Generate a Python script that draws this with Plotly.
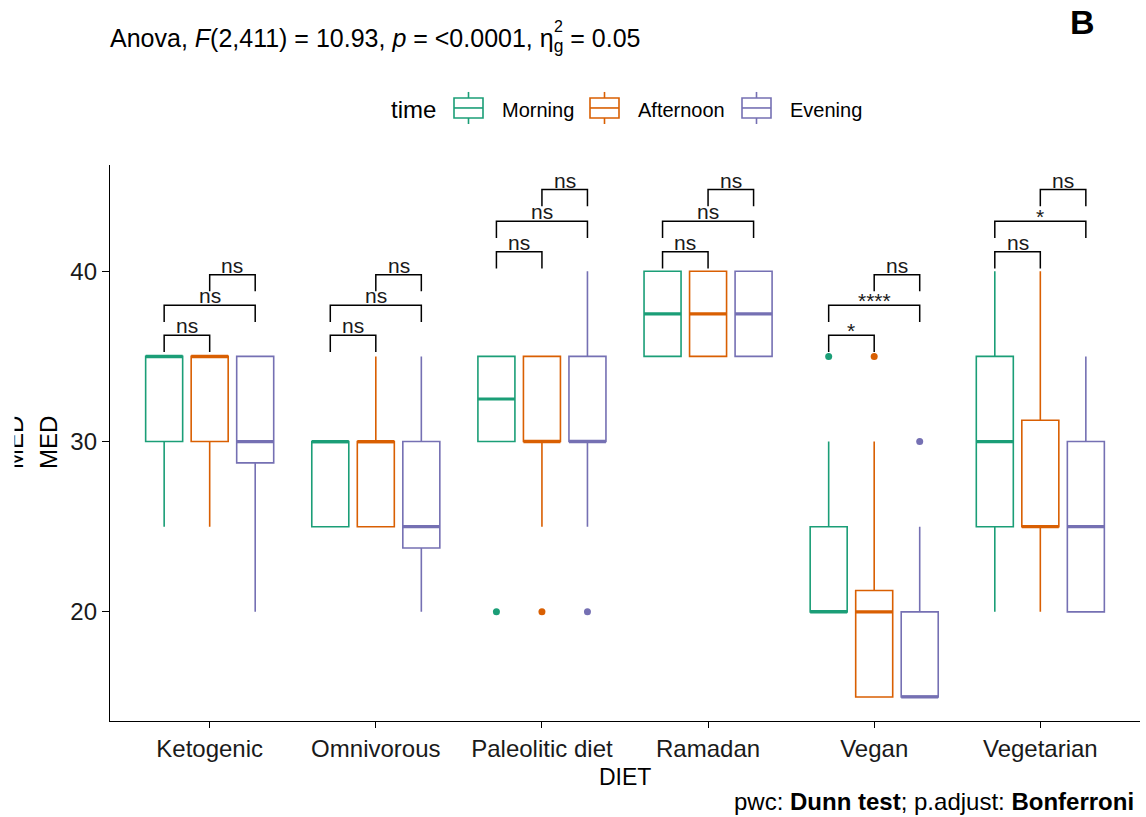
import plotly.graph_objects as go

# ---- data -------------------------------------------------------------
diets = ["Ketogenic", "Omnivorous", "Paleolitic diet", "Ramadan", "Vegan", "Vegetarian"]
times = ["Morning", "Afternoon", "Evening"]

morning_q1 = [30, 25, 30, 35, 20, 25]
morning_median = [35, 30, 32.5, 37.5, 20, 30]
morning_q3 = [35, 30, 35, 40, 25, 35]
morning_low = [25, 25, 30, 35, 20, 20]
morning_high = [35, 30, 35, 40, 30, 40]

afternoon_q1 = [30, 25, 30, 35, 15, 25]
afternoon_median = [35, 30, 30, 37.5, 20, 25]
afternoon_q3 = [35, 30, 35, 40, 21.25, 31.25]
afternoon_low = [25, 25, 25, 35, 15, 20]
afternoon_high = [35, 35, 35, 40, 30, 40]

evening_q1 = [28.75, 23.75, 30, 35, 15, 20]
evening_median = [30, 25, 30, 37.5, 15, 25]
evening_q3 = [35, 30, 35, 40, 20, 30]
evening_low = [20, 20, 25, 35, 15, 20]
evening_high = [35, 35, 40, 40, 25, 35]

# outlying observations (diet, value)
morning_out_x = ["Paleolitic diet", "Vegan"]
morning_out_y = [20, 35]
afternoon_out_x = ["Paleolitic diet", "Vegan"]
afternoon_out_y = [20, 35]
evening_out_x = ["Paleolitic diet", "Vegan"]
evening_out_y = [20, 30]

# pairwise comparisons: diet, group1, group2, bracket height, label
cmp_diet = ["Ketogenic"] * 3 + ["Omnivorous"] * 3 + ["Paleolitic diet"] * 3 + \
           ["Ramadan"] * 3 + ["Vegan"] * 3 + ["Vegetarian"] * 3
cmp_g1 = ["Morning", "Morning", "Afternoon"] * 6
cmp_g2 = ["Afternoon", "Evening", "Evening"] * 6
cmp_y = [36.24, 38.0, 39.8, 36.24, 38.0, 39.8, 41.14, 42.94, 44.8,
         41.14, 42.94, 44.8, 36.24, 38.0, 39.8, 41.14, 42.94, 44.8]
cmp_label = ["ns", "ns", "ns", "ns", "ns", "ns", "ns", "ns", "ns",
             "ns", "ns", "ns", "*", "****", "ns", "ns", "*", "ns"]

y_ticks = [20, 30, 40]

# ---- styling ----------------------------------------------------------
colors = {"Morning": "#1B9E77", "Afternoon": "#D95F02", "Evening": "#7570B3"}
FONT = "Liberation Sans, Arial, sans-serif"
BOXGAP = 0.178
GROUPGAP = 0.187
TIP = 0.98  # bracket tip length in y units

stats = {
    "Morning": (morning_q1, morning_median, morning_q3, morning_low, morning_high,
                morning_out_x, morning_out_y),
    "Afternoon": (afternoon_q1, afternoon_median, afternoon_q3, afternoon_low,
                  afternoon_high, afternoon_out_x, afternoon_out_y),
    "Evening": (evening_q1, evening_median, evening_q3, evening_low, evening_high,
                evening_out_x, evening_out_y),
}

fig = go.Figure()

for t in times:
    q1, med, q3, lo, hi, ox, oy = stats[t]
    fig.add_trace(go.Box(
        name=t, x=diets, q1=q1, median=med, q3=q3,
        lowerfence=lo, upperfence=hi,
        boxpoints=False, fillcolor="white", whiskerwidth=0,
        line=dict(color=colors[t], width=1.6),
        offsetgroup=t, alignmentgroup="all",
        showlegend=False, hoverinfo="skip",
    ))

# plot geometry (pixels) used for marker sizes
PLOT_W = 1146 - 110 - 6
X_SPAN = 6.2
slot = (1 - BOXGAP) / len(times)
box_px = slot * (1 - GROUPGAP) * PLOT_W / X_SPAN

for t in times:
    q1, med, q3, lo, hi, ox, oy = stats[t]
    # thicker median bar (line-ew half-length is 0.7 * size)
    fig.add_trace(go.Scatter(
        x=diets, y=med, mode="markers",
        marker=dict(symbol="line-ew", size=box_px / 1.4,
                    line=dict(color=colors[t], width=3.2)),
        offsetgroup=t, alignmentgroup="all",
        showlegend=False, hoverinfo="skip",
    ))
    # outliers
    fig.add_trace(go.Scatter(
        x=ox, y=oy, mode="markers",
        marker=dict(color=colors[t], size=7),
        offsetgroup=t, alignmentgroup="all",
        showlegend=False, hoverinfo="skip",
    ))


def pos(diet, t):
    k = times.index(t)
    return diets.index(diet) + (1 - BOXGAP) * (-0.5 + (k + 0.5) / len(times))


shapes = []
annotations = []
for d, g1, g2, yv, lab in zip(cmp_diet, cmp_g1, cmp_g2, cmp_y, cmp_label):
    x1, x2 = pos(d, g1), pos(d, g2)
    shapes.append(dict(
        type="path", xref="x", yref="y",
        path=f"M {x1},{yv - TIP} L {x1},{yv} L {x2},{yv} L {x2},{yv - TIP}",
        line=dict(color="black", width=1.5),
    ))
    star = "*" in lab
    annotations.append(dict(
        x=(x1 + x2) / 2, y=yv, xref="x", yref="y", text=lab, showarrow=False,
        xanchor="center", yanchor="bottom", yshift=-9 if star else -4,
        font=dict(family=FONT, size=21, color="#1a1a1a"),
    ))

PX_TOP, PX_BOT = 165, 720.7


def py(px):
    return (PX_BOT - px) / (PX_BOT - PX_TOP)


def pxx(px):
    return (px - 110) / PLOT_W


# ---- legend drawn as box keys beside their labels ----------------------
LEG_Y = 110
annotations.append(dict(
    text="time", x=pxx(389), y=py(LEG_Y), xref="paper", yref="paper",
    xanchor="left", yanchor="middle", showarrow=False,
    font=dict(family=FONT, size=24, color="black")))
key_left = {"Morning": 454, "Afternoon": 590, "Evening": 742}
KEY_W = 29
for t in times:
    x0 = key_left[t]
    xc = x0 + KEY_W / 2
    c = colors[t]
    shapes.append(dict(type="rect", xref="paper", yref="paper",
                       x0=pxx(x0), x1=pxx(x0 + KEY_W), y0=py(118), y1=py(98),
                       line=dict(color=c, width=1.6), fillcolor="white"))
    for ya, yb in ((108, 108), (92, 98), (118, 124)):
        xa = pxx(x0) if ya == yb else pxx(xc)
        xb = pxx(x0 + KEY_W) if ya == yb else pxx(xc)
        shapes.append(dict(type="line", xref="paper", yref="paper",
                           x0=xa, x1=xb, y0=py(ya), y1=py(yb),
                           line=dict(color=c, width=1.6)))
    annotations.append(dict(
        text=t, x=pxx(x0 + KEY_W + 17), y=py(LEG_Y), xref="paper", yref="paper",
        xanchor="left", yanchor="middle", showarrow=False,
        font=dict(family=FONT, size=20, color="black")))

annotations += [
    # superscript of the generalized eta squared, stacked over its subscript
    dict(text="2", x=pxx(558), y=py(27), xref="paper", yref="paper",
         xanchor="center", yanchor="middle", showarrow=False,
         font=dict(family=FONT, size=16, color="black")),
    dict(text="MED", x=pxx(48), y=0.5, xref="paper", yref="paper", textangle=-90,
         xanchor="center", yanchor="middle",
         showarrow=False, font=dict(family=FONT, size=24, color="black")),
    dict(text="MED", x=pxx(14), y=0.5, xref="paper", yref="paper", textangle=-90,
         xanchor="center", yanchor="middle",
         showarrow=False, font=dict(family=FONT, size=24, color="black")),
    dict(text="&nbsp;", x=pxx(0), y=0.5, xref="paper", yref="paper",
         xanchor="left", yanchor="middle", showarrow=False, bgcolor="white",
         width=13, height=90, borderpad=0, font=dict(size=10, color="white")),
    dict(text="DIET", x=0.5, y=py(777), xref="paper", yref="paper",
         xanchor="center", yanchor="middle",
         showarrow=False, font=dict(family=FONT, size=23, color="black")),
    dict(text="pwc: <b>Dunn test</b>; p.adjust: <b>Bonferroni</b>",
         x=pxx(1136), y=py(801), xref="paper", yref="paper",
         xanchor="right", yanchor="middle",
         showarrow=False, font=dict(family=FONT, size=24, color="black")),
    dict(text="<b>B</b>", x=pxx(1082), y=py(22), xref="paper", yref="paper",
         xanchor="center", yanchor="middle",
         showarrow=False, font=dict(family=FONT, size=34, color="black")),
]

fig.update_layout(
    width=1146, height=817,
    margin=dict(l=110, r=6, t=165, b=96),
    paper_bgcolor="white", plot_bgcolor="white",
    showlegend=False,
    boxmode="group", boxgap=BOXGAP, boxgroupgap=GROUPGAP,
    scattermode="group", scattergap=BOXGAP,
    title=dict(
        text="Anova, <i>F</i>(2,411) = 10.93, <i>p</i> = &lt;0.0001, "
             "η<sub>g</sub> = 0.05",
        x=0, xref="paper", xanchor="left", y=1 - 38 / 817, yanchor="middle",
        font=dict(family=FONT, size=25, color="black"),
    ),
    xaxis=dict(
        type="category", categoryorder="array", categoryarray=diets,
        range=[-0.6, 5.6], showline=True, linecolor="black", linewidth=1.3,
        ticks="outside", ticklen=6, tickwidth=1.3, tickcolor="black",
        showgrid=False, zeroline=False,
        tickfont=dict(family=FONT, size=24, color="#1a1a1a"),
    ),
    yaxis=dict(
        range=[13.59, 46.24], tickvals=y_ticks, showline=True, linecolor="black",
        linewidth=1.3, ticks="outside", ticklen=7, tickwidth=1.3, tickcolor="black",
        showgrid=False, zeroline=False,
        tickfont=dict(family=FONT, size=24, color="#1a1a1a"),
    ),
    shapes=shapes,
    annotations=annotations,
)

fig.write_html("out.html")
